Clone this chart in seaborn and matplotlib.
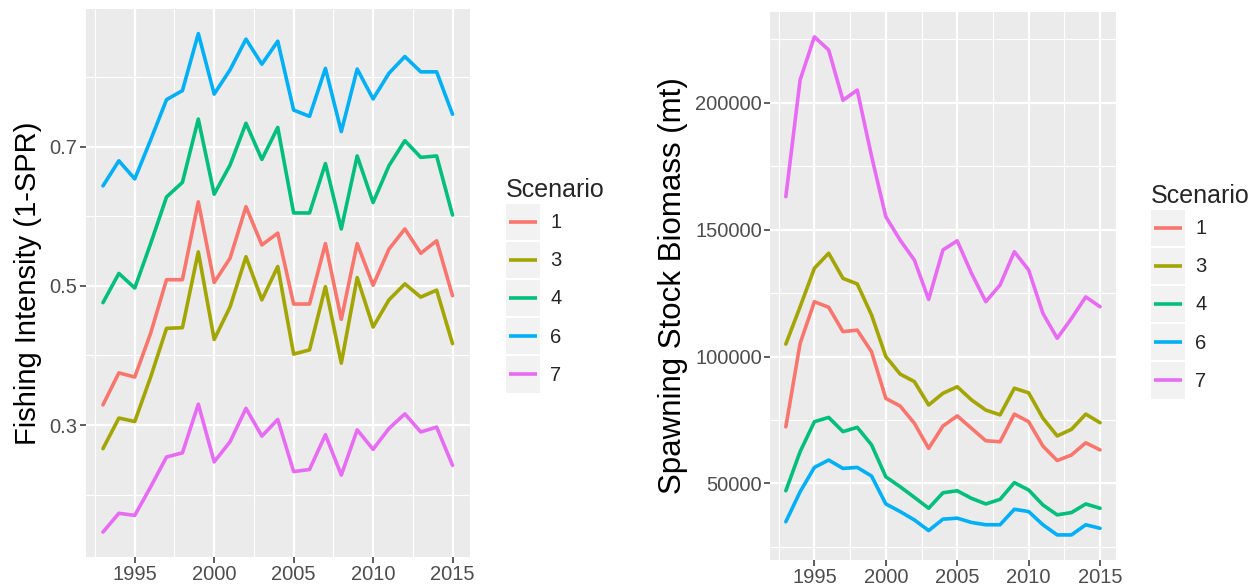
import numpy as np
import pandas as pd
import matplotlib
matplotlib.use("Agg")
import matplotlib.pyplot as plt
from matplotlib.patches import Rectangle
from matplotlib.lines import Line2D
from matplotlib.legend_handler import HandlerBase
from matplotlib.ticker import FixedLocator
import seaborn as sns

# ---------------- data ----------------
years = list(range(1993, 2016))
scenarios = ["1", "3", "4", "6", "7"]
colors = ["#F8766D", "#A3A500", "#00BF7D", "#00B0F6", "#E76BF3"]

fi_1 = [0.329, 0.375, 0.369, 0.432, 0.509, 0.509, 0.621, 0.505, 0.540, 0.614, 0.559, 0.576,
        0.474, 0.474, 0.561, 0.452, 0.561, 0.501, 0.553, 0.582, 0.547, 0.565, 0.486]
fi_3 = [0.266, 0.310, 0.305, 0.369, 0.439, 0.440, 0.549, 0.423, 0.470, 0.542, 0.480, 0.528,
        0.402, 0.408, 0.499, 0.389, 0.512, 0.441, 0.480, 0.503, 0.484, 0.494, 0.417]
fi_4 = [0.476, 0.518, 0.497, 0.561, 0.628, 0.649, 0.740, 0.632, 0.674, 0.734, 0.682, 0.728,
        0.605, 0.605, 0.676, 0.582, 0.687, 0.620, 0.673, 0.709, 0.685, 0.687, 0.602]
fi_6 = [0.644, 0.680, 0.654, 0.710, 0.768, 0.781, 0.863, 0.776, 0.811, 0.855, 0.819, 0.852,
        0.753, 0.744, 0.813, 0.722, 0.812, 0.769, 0.806, 0.830, 0.808, 0.808, 0.747]
fi_7 = [0.146, 0.173, 0.170, 0.211, 0.254, 0.260, 0.330, 0.247, 0.276, 0.324, 0.284, 0.308,
        0.233, 0.236, 0.286, 0.228, 0.293, 0.265, 0.295, 0.316, 0.290, 0.297, 0.242]

ssb_1 = [72300, 105200, 121600, 119400, 109800, 110400, 101900, 83500, 80500, 73700, 63800, 72600,
         76600, 71700, 66800, 66400, 77300, 74300, 64700, 59000, 61200, 66000, 63200]
ssb_3 = [104900, 119600, 134800, 140700, 130800, 128600, 116400, 100000, 93100, 90100, 80900, 85500,
         88100, 82900, 78900, 77000, 87500, 85700, 75700, 68700, 71300, 77300, 73900]
ssb_4 = [47100, 62500, 74300, 76000, 70400, 72100, 65200, 52600, 48700, 44500, 40200, 46300,
         47100, 44100, 41900, 43700, 50300, 47400, 41500, 37600, 38500, 41900, 40200]
ssb_6 = [34900, 46700, 56300, 59200, 55900, 56300, 52900, 41900, 38900, 35600, 31400, 35900,
         36300, 34600, 33700, 33700, 39800, 38900, 33700, 29700, 29700, 33700, 32300]
ssb_7 = [163000, 209000, 226000, 220800, 201000, 205000, 179000, 155100, 145900, 138000, 122500, 142000,
         145600, 132800, 121600, 128200, 141300, 134100, 117000, 107200, 115000, 123500, 119600]

fi_ticks = [0.3, 0.5, 0.7]
fi_minor = [0.2, 0.4, 0.6, 0.8]
ssb_ticks = [50000, 100000, 150000, 200000]
ssb_minor = [25000, 75000, 125000, 175000, 225000]
year_ticks = [1995, 2000, 2005, 2010, 2015]
year_minor = [1992.5, 1997.5, 2002.5, 2007.5, 2012.5]


def long_frame(series):
    rows = []
    for sc, vals in zip(scenarios, series):
        for y, v in zip(years, vals):
            rows.append({"Year": y, "value": v, "Scenario": sc})
    return pd.DataFrame(rows)


df_fi = long_frame([fi_1, fi_3, fi_4, fi_6, fi_7])
df_ssb = long_frame([ssb_1, ssb_3, ssb_4, ssb_6, ssb_7])

# ---------------- style ----------------
sns.set_style("darkgrid", {"axes.facecolor": "#EBEBEB", "grid.color": "white"})
plt.rcParams["font.family"] = ["Liberation Sans", "DejaVu Sans"]

palette = dict(zip(scenarios, colors))
LW = 2.6

fig = plt.figure(figsize=(12.5, 5.86), dpi=100)
ax1 = fig.add_axes([0.0684, 0.0495, 0.3076, 0.9357])
ax2 = fig.add_axes([0.6161, 0.0447, 0.2765, 0.9350])

sns.lineplot(data=df_fi, x="Year", y="value", hue="Scenario", hue_order=scenarios,
             palette=palette, lw=LW, ax=ax1, legend=False)
sns.lineplot(data=df_ssb, x="Year", y="value", hue="Scenario", hue_order=scenarios,
             palette=palette, lw=LW, ax=ax2, legend=False)


def expand(vals, frac=0.05):
    lo, hi = min(vals), max(vals)
    d = (hi - lo) * frac
    return lo - d, hi + d


all_fi = fi_1 + fi_3 + fi_4 + fi_6 + fi_7
all_ssb = ssb_1 + ssb_3 + ssb_4 + ssb_6 + ssb_7

for ax, vals, yt, ym, ylab, fs, fmt in [
    (ax1, all_fi, fi_ticks, fi_minor, "Fishing Intensity (1-SPR)", 21, lambda v: f"{v:.1f}"),
    (ax2, all_ssb, ssb_ticks, ssb_minor, "Spawning Stock Biomass (mt)", 22.5, lambda v: f"{int(v)}"),
]:
    ax.set_xlim(*expand(years))
    ax.set_ylim(*expand(vals))
    ax.set_xticks(year_ticks)
    ax.set_xticklabels([str(y) for y in year_ticks])
    ax.set_yticks(yt)
    ax.set_yticklabels([fmt(v) for v in yt])
    ax.xaxis.set_minor_locator(FixedLocator(year_minor))
    ax.yaxis.set_minor_locator(FixedLocator(ym))
    ax.grid(which="major", color="white", lw=1.6)
    ax.grid(which="minor", color="white", lw=0.8)
    ax.set_axisbelow(True)
    ax.tick_params(which="major", length=4, width=1.1, color="#333333", labelcolor="#4D4D4D",
                   labelsize=14.5, pad=2, bottom=True, left=True)
    ax.tick_params(which="minor", length=0)
    ax.set_xlabel("")
    ax.set_ylabel(ylab, fontsize=fs, color="black", labelpad=5)
    for s in ax.spines.values():
        s.set_visible(False)


class KeyHandler(HandlerBase):
    def create_artists(self, legend, orig_handle, xdescent, ydescent, width, height, fontsize, trans):
        r = Rectangle((-xdescent, -ydescent), width, height, facecolor="#F2F2F2",
                      edgecolor="none", transform=trans)
        yc = -ydescent + height / 2
        ln = Line2D([-xdescent + width * 0.08, -xdescent + width * 0.92], [yc, yc],
                    color=orig_handle.get_color(), lw=orig_handle.get_linewidth(),
                    solid_capstyle="butt", transform=trans)
        return [r, ln]


handles = [Line2D([0], [0], color=c, lw=LW) for c in colors]

for ax, anchor in [(ax1, (506 / 1250, 1 - 178 / 586)), (ax2, (1151 / 1250, 1 - 184 / 586))]:
    leg = fig.legend(handles, scenarios, title="Scenario", loc="upper left",
                     bbox_to_anchor=anchor, frameon=False, fontsize=14.5,
                     title_fontsize=18, handler_map={Line2D: KeyHandler()},
                     handlelength=1.7, handleheight=2.38, labelspacing=0.1,
                     handletextpad=0.5, borderpad=0, borderaxespad=0,
                     alignment="left")

fig.savefig("out.png", dpi=100)
